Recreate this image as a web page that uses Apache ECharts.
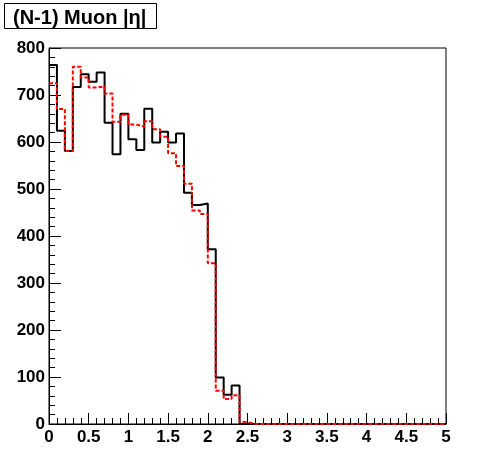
<!DOCTYPE html>
<html><head><meta charset="utf-8">
<script src="https://cdn.jsdelivr.net/npm/echarts@6/dist/echarts.min.js"></script>
<style>html,body{margin:0;padding:0;background:#fff}#c{width:496px;height:472px}</style>
</head><body><div id="c"></div>
<script>
const titleText = '(N-1) Muon |η|';
const binWidth = 0.1;
const xMin = 0, xMax = 5;
const yMin = 0, yMax = 800;
// black solid histogram (50 bins, 0..5)
const blackValues = [764, 624, 581, 717, 744, 728, 748, 641, 574, 660,
                     606, 583, 671, 599, 622, 599, 618, 492, 466, 469,
                     372, 99, 62, 82, 0, 0, 0, 0, 0, 0,
                     0, 0, 0, 0, 0, 0, 0, 0, 0, 0,
                     0, 0, 0, 0, 0, 0, 0, 0, 0, 0];
// red dashed histogram
const redValues = [725, 670, 581, 760, 737, 716, 718, 703, 643, 658,
                   637, 633, 644, 627, 611, 576, 549, 511, 454, 447,
                   342, 71, 53, 61, 4, 0, 0, 0, 0, 0,
                   0, 0, 0, 0, 0, 0, 0, 0, 0, 0,
                   0, 0, 0, 0, 0, 0, 0, 0, 0, 0];

function toSteps(vals) {
  const pts = vals.map((v, i) => [+(i * binWidth).toFixed(2), v]);
  pts.push([+(vals.length * binWidth).toFixed(2), vals[vals.length - 1]]);
  return pts;
}

const font = 'Liberation Sans, Arial, sans-serif';
const chart = echarts.init(document.getElementById('c'), null, {renderer: 'canvas'});
chart.setOption({
  animation: false,
  backgroundColor: '#fff',
  title: {
    text: titleText, left: 4, top: 3,
    borderColor: '#000', borderWidth: 1, padding: [5, 10, 1, 9],
    textStyle: {fontFamily: font, fontWeight: 'bold', fontSize: 20, lineHeight: 20, color: '#000'}
  },
  grid: {left: 49, right: 50, top: 48, bottom: 48, show: true, borderColor: '#000', borderWidth: 1, backgroundColor: 'transparent'},
  xAxis: {
    type: 'value', min: xMin, max: xMax, interval: 0.5,
    axisLine: {show: true, lineStyle: {color: '#000', width: 1}},
    axisTick: {show: true, inside: true, length: 11, lineStyle: {color: '#000'}},
    minorTick: {show: true, splitNumber: 5, length: 6, lineStyle: {color: '#000'}},
    splitLine: {show: false},
    axisLabel: {fontFamily: font, fontWeight: 'bold', fontSize: 17, color: '#000', margin: 5,
      formatter: v => String(+v.toFixed(1))}
  },
  yAxis: {
    type: 'value', min: yMin, max: yMax, interval: 100,
    axisLine: {show: true, lineStyle: {color: '#000', width: 1}},
    axisTick: {show: true, inside: true, length: 12, lineStyle: {color: '#000'}},
    minorTick: {show: true, splitNumber: 5, length: 6, lineStyle: {color: '#000'}},
    splitLine: {show: false},
    axisLabel: {fontFamily: font, fontWeight: 'bold', fontSize: 17, color: '#000', margin: 4}
  },
  series: [
    {type: 'line', step: 'end', data: toSteps(blackValues), showSymbol: false,
     lineStyle: {color: '#000', width: 2}, z: 2},
    {type: 'line', step: 'end', data: toSteps(redValues), showSymbol: false,
     lineStyle: {color: '#ff0000', width: 2, type: [4, 2]}, z: 3}
  ]
});
</script></body></html>
